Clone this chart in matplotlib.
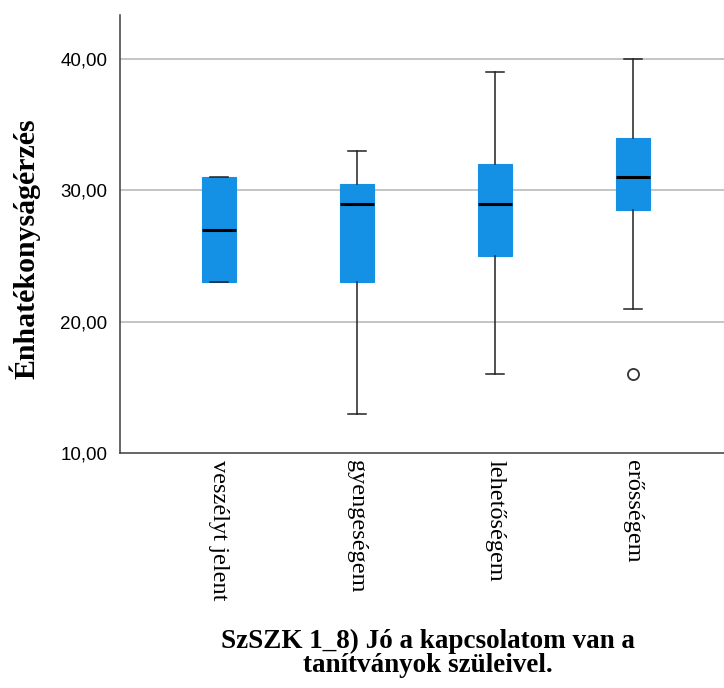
import numpy as np
import matplotlib
matplotlib.use("Agg")
import matplotlib.pyplot as plt

# Box statistics
categories = ["veszélyt jelent", "gyengeségem", "lehetőségem", "erősségem"]
whislo = [23, 13, 16, 21]
q1 = [23, 23, 25, 28.5]
med = [27, 29, 29, 31]
q3 = [31, 30.5, 32, 34]
whishi = [31, 33, 39, 40]
outliers = [[], [], [], [16]]

y_ticks = [10, 20, 30, 40]
y_tick_labels = ["10,00", "20,00", "30,00", "40,00"]
y_label = "Énhatékonyságérzés"
x_title = "SzSZK 1_8) Jó a kapcsolatom van a\ntanítványok szüleivel."

BOX_COLOR = "#1490e4"

stats = []
for i in range(len(categories)):
    stats.append({
        "whislo": whislo[i], "q1": q1[i], "med": med[i],
        "q3": q3[i], "whishi": whishi[i], "fliers": outliers[i],
    })

fig = plt.figure(figsize=(7.24, 6.88), dpi=100)
ax = fig.add_axes([120 / 724, 1 - 453 / 688, 604 / 724, 438 / 688])

ax.bxp(stats, positions=range(1, 5), widths=0.25, capwidths=0.13,
       patch_artist=True, showfliers=True,
       boxprops=dict(facecolor=BOX_COLOR, edgecolor=BOX_COLOR, linewidth=0.8),
       medianprops=dict(color="black", linewidth=2.2),
       whiskerprops=dict(color="#222222", linewidth=1.1),
       capprops=dict(color="#222222", linewidth=1.1),
       flierprops=dict(marker="o", markersize=8, markerfacecolor="white",
                       markeredgecolor="#333333", markeredgewidth=1.3),
       zorder=3)

ax.set_xlim(0.283, 4.66)
ax.set_ylim(10, 43.36)

ax.set_yticks(y_ticks)
ax.set_yticklabels(y_tick_labels, fontfamily="Liberation Sans", fontsize=13.5)
ax.tick_params(axis="y", length=0, pad=9)
for y in y_ticks[1:]:
    ax.axhline(y, color="#b4b4b4", linewidth=1.1, zorder=1)

ax.set_xticks(range(1, 5))
ax.set_xticklabels(categories, rotation=270, fontfamily="Liberation Serif",
                   fontsize=17.5, va="top", ha="center")
ax.tick_params(axis="x", length=0, pad=5)

for side in ["top", "right"]:
    ax.spines[side].set_visible(False)
for side in ["left", "bottom"]:
    ax.spines[side].set_color("#3c3c3c")
    ax.spines[side].set_linewidth(1.1)

# y axis title placed by hand, centred where the reference has it
fig.text(25 / 724, 1 - 249 / 688, y_label, rotation=90, ha="center",
         va="center", fontfamily="Liberation Serif", fontweight="bold",
         fontsize=21.5)

fig.text(428 / 724, 1 - 653 / 688, x_title, ha="center", va="center",
         fontfamily="Liberation Serif", fontweight="bold", fontsize=19.5,
         linespacing=0.95)

fig.savefig("out.png", dpi=100)
